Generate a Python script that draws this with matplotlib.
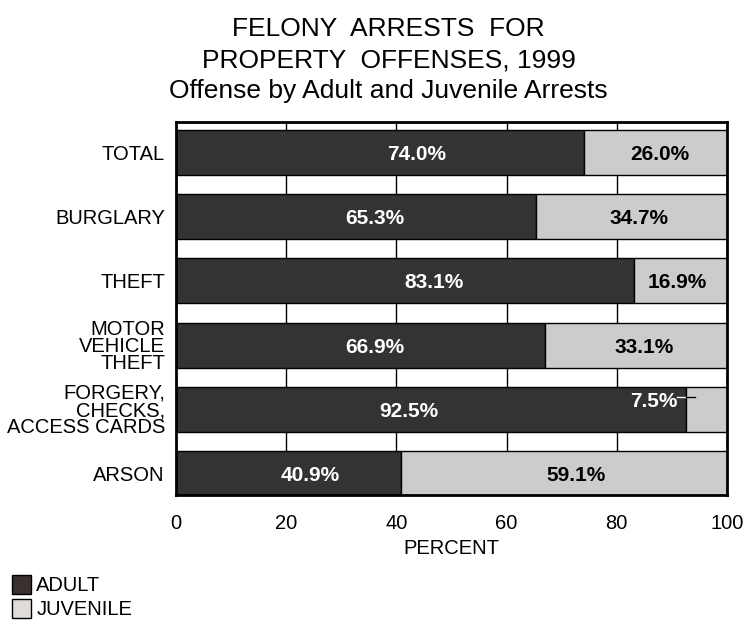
import matplotlib.pyplot as plt
from matplotlib.patches import Patch

plt.rcParams['font.family'] = ['Liberation Sans', 'DejaVu Sans']

# data
categories = ['TOTAL', 'BURGLARY', 'THEFT', 'MOTOR\nVEHICLE\nTHEFT',
              'FORGERY,\nCHECKS,\nACCESS CARDS', 'ARSON']
adult = [74.0, 65.3, 83.1, 66.9, 92.5, 40.9]
juvenile = [26.0, 34.7, 16.9, 33.1, 7.5, 59.1]
xticks = [0, 20, 40, 60, 80, 100]

# label placement (offset from segment centre, in percent units)
adult_off = [6.7, 3.5, 5.2, 2.7, -4.0, 3.9]
juv_off = [0.9, 1.4, -0.5, 1.5, 0.0, 2.2]

adult_color = '#333333'
juv_color = '#cccccc'

fig = plt.figure(figsize=(7.47, 6.24), dpi=100)
ax = fig.add_axes([0.2356, 0.2067, 0.7376, 0.5978])

y = list(range(len(categories)))
ax.barh(y, adult, height=0.7, color=adult_color, edgecolor='black', linewidth=1, zorder=3)
ax.barh(y, juvenile, left=adult, height=0.7, color=juv_color, edgecolor='black', linewidth=1, zorder=3)

for i in y:
    a, j = adult[i], juvenile[i]
    ax.text(a / 2 + adult_off[i], i + 0.03, f'{a:.1f}%', ha='center', va='center',
            color='white', fontsize=15, fontweight='bold', zorder=5)
    if j < 10:
        # small segment: label sits inside the adult bar with a leader line
        ax.text(a - 1.5, i - 0.13, f'{j:.1f}%', ha='right', va='center',
                color='white', fontsize=15, fontweight='bold', zorder=5)
        ax.plot([a - 1.6, a + 1.7], [i - 0.19, i - 0.19], color='white', lw=1, zorder=5)
        ax.plot([a, a + 1.7], [i - 0.19, i - 0.19], color='black', lw=1, zorder=6)
    else:
        ax.text(a + j / 2 + juv_off[i], i + 0.03, f'{j:.1f}%', ha='center', va='center',
                color='black', fontsize=15, fontweight='bold', zorder=5)

ax.set_xlim(0, 100)
ax.set_ylim(5.33, -0.47)
ax.set_xticks(xticks)
ax.set_xticklabels([str(t) for t in xticks], fontsize=14.5)
ax.set_yticks(y)
ax.set_yticklabels(categories, fontsize=14.5, linespacing=0.88)
ax.tick_params(axis='x', length=0, pad=14)
ax.tick_params(axis='y', length=0, pad=8)
ax.set_xlabel('PERCENT', fontsize=14.5, labelpad=4)

for xv in xticks[1:-1]:
    ax.axvline(xv, color='black', lw=1, zorder=1)
for s in ax.spines.values():
    s.set_linewidth(2)
    s.set_zorder(7)

fig.text(0.52, 0.953, 'FELONY  ARRESTS  FOR', ha='center', va='center', fontsize=19)
fig.text(0.52, 0.903, 'PROPERTY  OFFENSES, 1999', ha='center', va='center', fontsize=19)
fig.text(0.52, 0.854, 'Offense by Adult and Juvenile Arrests', ha='center', va='center', fontsize=19)

handles = [Patch(facecolor='#3a3030', edgecolor='black', lw=1),
           Patch(facecolor='#e0dcd8', edgecolor='black', lw=1)]
fig.legend(handles, ['ADULT', 'JUVENILE'], loc='lower left', bbox_to_anchor=(0.0, -0.012),
           frameon=False, fontsize=14.5, handlelength=0.95, handleheight=1.05,
           handletextpad=0.25, labelspacing=0.2, borderaxespad=0.2)

fig.savefig('out.png', dpi=100)
